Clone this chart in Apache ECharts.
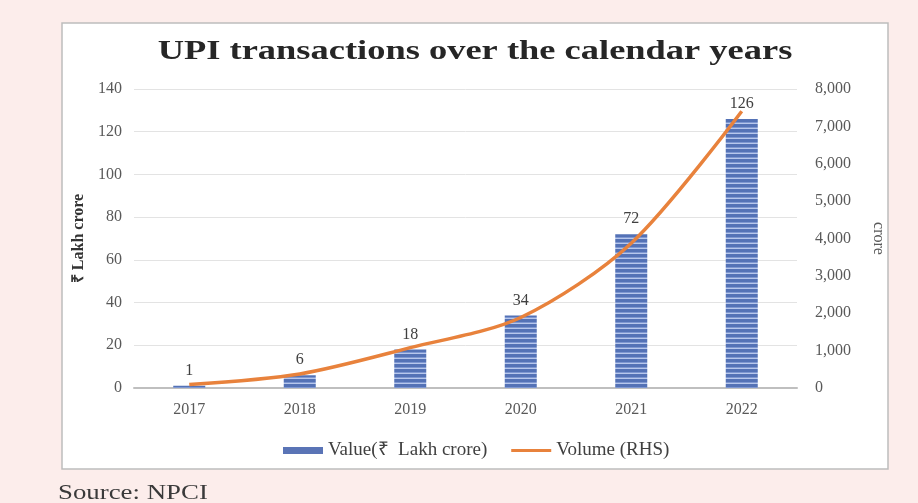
<!DOCTYPE html>
<html>
<head>
<meta charset="utf-8">
<title>UPI transactions over the calendar years</title>
<script src="https://cdn.jsdelivr.net/npm/echarts@6/dist/echarts.min.js"></script>
<style>
  html, body { margin: 0; padding: 0; background: #fcedeb; }
  #chart { width: 918px; height: 503px; }
</style>
</head>
<body>
<div id="chart"></div>
<script>
// Calendar years on the category axis
const years = ['2017', '2018', '2019', '2020', '2021', '2022'];
// Value of UPI transactions, ₹ lakh crore (left axis)
const valueLakhCrore = [1, 6, 18, 34, 72, 126];
// Volume of UPI transactions, crore (right axis)
const volumeCrore = [92, 375, 1079, 1887, 3874, 7404];

const valueName = 'Value(₹  Lakh crore)';
const volumeName = 'Volume (RHS)';
const serif = '"Liberation Serif", "Times New Roman", serif';
const orange = '#e8823c';

// Horizontal-stripe fill for the bars
function stripePattern() {
  const c = document.createElement('canvas');
  c.width = 8; c.height = 5;
  const g = c.getContext('2d');
  g.fillStyle = '#5472b6'; g.fillRect(0, 0, 8, 5);
  g.fillStyle = '#7f98d2'; g.fillRect(0, 2, 8, 1);
  g.fillStyle = '#b7c7ec'; g.fillRect(0, 3, 8, 1);
  return c;
}

const chart = echarts.init(document.getElementById('chart'), null, { renderer: 'canvas' });

chart.setOption({
  backgroundColor: '#fcedeb',
  animation: false,
  graphic: [
    {
      type: 'rect', z: -10,
      shape: { x: 62, y: 23, width: 826, height: 446 },
      style: { fill: '#ffffff', stroke: '#bdbdbd', lineWidth: 1.5 }
    },
    {
      type: 'text', x: 475, y: 52, scaleX: 1.35,
      style: {
        text: 'UPI transactions over the calendar years',
        font: 'bold 27px ' + serif, fill: '#262626',
        align: 'center', verticalAlign: 'middle',
        textAlign: 'center', textVerticalAlign: 'middle'
      }
    },
    {
      type: 'text', x: 58, y: 493, scaleX: 1.22,
      style: {
        text: 'Source: NPCI', font: '22px ' + serif, fill: '#3a3a3a',
        verticalAlign: 'middle', textVerticalAlign: 'middle'
      }
    }
  ],
  grid: { left: 134, right: 121, top: 89, bottom: 115 },
  legend: {
    left: 283, top: 441, padding: 0,
    itemWidth: 40, itemHeight: 7, itemGap: 24,
    textStyle: { fontFamily: serif, fontSize: 19, color: '#404040' },
    data: [
      { name: valueName, icon: 'rect', itemStyle: { color: '#5a74b6' } },
      { name: volumeName, icon: 'path://M0,0H40V3H0Z', itemStyle: { color: orange } }
    ]
  },
  xAxis: {
    type: 'category',
    data: years,
    axisLine: { lineStyle: { color: '#bfbfbf', width: 2 } },
    axisTick: { show: false },
    axisLabel: { fontFamily: serif, fontSize: 16, color: '#595959', margin: 14 }
  },
  yAxis: [
    {
      type: 'value', min: 0, max: 140, interval: 20,
      name: '₹ Lakh crore', nameLocation: 'middle', nameGap: 44,
      nameTextStyle: { fontFamily: serif, fontSize: 16, fontWeight: 'bold', color: '#333333' },
      axisLine: { show: false }, axisTick: { show: false },
      axisLabel: { fontFamily: serif, fontSize: 16, color: '#595959', margin: 12 },
      splitLine: { lineStyle: { color: '#e3e3e3', width: 1 } }
    },
    {
      type: 'value', min: 0, max: 8000, interval: 1000, position: 'right',
      name: 'crore', nameLocation: 'middle', nameGap: 73, nameRotate: -90,
      nameTextStyle: { fontFamily: serif, fontSize: 16, color: '#595959' },
      axisLine: { show: false }, axisTick: { show: false },
      axisLabel: {
        fontFamily: serif, fontSize: 16, color: '#595959', margin: 18,
        formatter: v => v.toLocaleString('en-US')
      },
      splitLine: { show: false }
    }
  ],
  series: [
    {
      name: valueName,
      type: 'bar',
      data: valueLakhCrore,
      barWidth: 32,
      itemStyle: { color: { image: stripePattern(), repeat: 'repeat' } },
      label: {
        show: true, position: 'top', distance: 7,
        fontFamily: serif, fontSize: 16, color: '#404040'
      }
    },
    {
      name: volumeName,
      type: 'line',
      yAxisIndex: 1,
      data: volumeCrore,
      smooth: 0.3,
      symbol: 'none',
      z: 3,
      lineStyle: { color: orange, width: 3.5 },
      itemStyle: { color: orange }
    }
  ]
});
</script>
</body>
</html>
